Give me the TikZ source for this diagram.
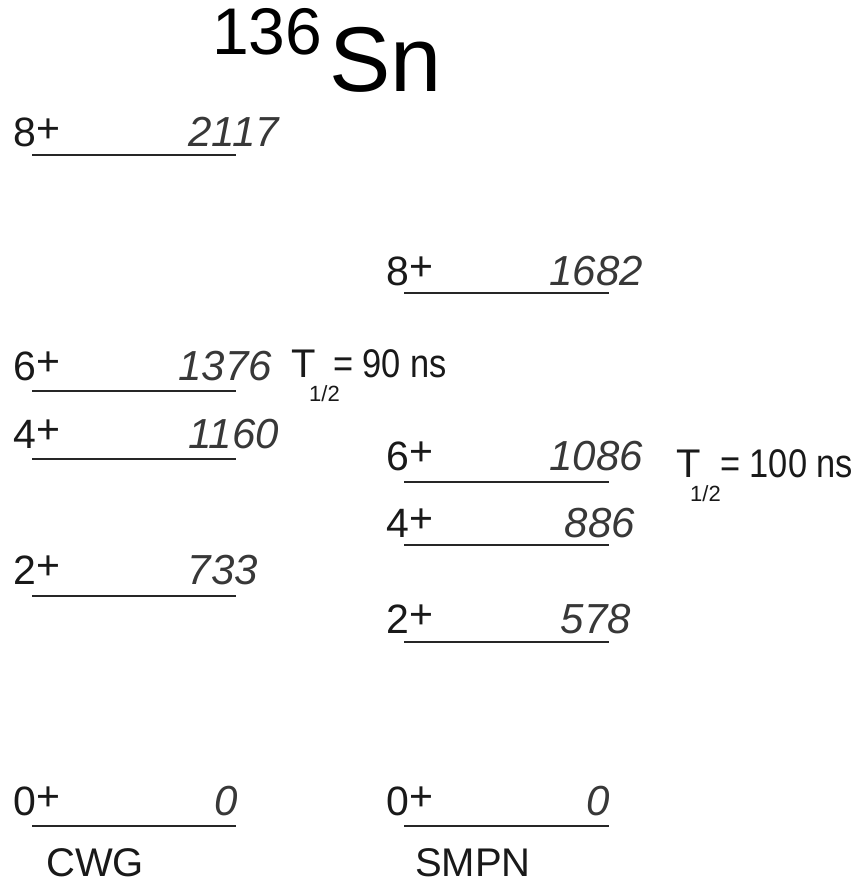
\documentclass[tikz,border=0pt]{standalone}
\usepackage{fontspec}
\usepackage{graphicx}
\setmainfont{Liberation Sans}
\begin{document}
\begin{tikzpicture}[x=1pt,y=-1pt,
  lvl/.style={line width=2.2pt, draw=black!85},
  spin/.style={anchor=base west, inner sep=0pt, font=\fontsize{41}{43}\selectfont, text=black!90},
  ener/.style={anchor=base east, inner sep=0pt, font=\fontsize{42}{44}\selectfont\itshape, text=black!78},
  big/.style={inner sep=0pt, anchor=base west},
  lab/.style={anchor=base west, inner sep=0pt, font=\fontsize{40}{42}\selectfont, text=black!90},
  sub/.style={anchor=base west, inner sep=0pt, font=\fontsize{22}{24}\selectfont, text=black!90}]
\newcommand{\jp}[1]{#1\raisebox{0.12em}{+}}
\newcommand{\nrw}[1]{\scalebox{0.86}[1]{#1}}
\useasboundingbox (0,0) rectangle (852,885);
% title
\node[big, font=\fontsize{66}{68}\selectfont] (mass) at (212,55) {136};
\node[big, font=\fontsize{92}{94}\selectfont] (elem) at (329,92) {Sn};
% left column (CWG)
\coordinate (L8a) at (32,155);  \coordinate (L8b) at (236,155);
\coordinate (L6a) at (32,391);  \coordinate (L6b) at (236,391);
\coordinate (L4a) at (32,459);  \coordinate (L4b) at (236,459);
\coordinate (L2a) at (32,596);  \coordinate (L2b) at (236,596);
\coordinate (L0a) at (32,826);  \coordinate (L0b) at (236,826);
\draw[lvl] (L8a) -- (L8b);
\draw[lvl] (L6a) -- (L6b);
\draw[lvl] (L4a) -- (L4b);
\draw[lvl] (L2a) -- (L2b);
\draw[lvl] (L0a) -- (L0b);
\node[spin] (sL8) at (13,147) {\jp{8}};
\node[spin] (sL6) at (13,380) {\jp{6}};
\node[spin] (sL4) at (13,448) {\jp{4}};
\node[spin] (sL2) at (13,584) {\jp{2}};
\node[spin] (sL0) at (13,815) {\jp{0}};
\node[ener] (eL8) at (279,147) {2117};
\node[ener] (eL6) at (272,380) {1376};
\node[ener] (eL4) at (279,448) {1160};
\node[ener] (eL2) at (258,584) {733};
\node[ener] (eL0) at (238,815) {0};
\node[lab] (tA) at (291,377) {T};
\node[sub] (tAs) at (309,401) {1/2};
\node[lab] (tAv) at (333,377) {\nrw{= 90 ns}};
\node[lab] (cwg) at (46,876) {CWG};
% right column (SMPN)
\coordinate (R8a) at (404,293);  \coordinate (R8b) at (609,293);
\coordinate (R6a) at (404,482);  \coordinate (R6b) at (609,482);
\coordinate (R4a) at (404,545);  \coordinate (R4b) at (609,545);
\coordinate (R2a) at (404,642);  \coordinate (R2b) at (609,642);
\coordinate (R0a) at (404,826);  \coordinate (R0b) at (609,826);
\draw[lvl] (R8a) -- (R8b);
\draw[lvl] (R6a) -- (R6b);
\draw[lvl] (R4a) -- (R4b);
\draw[lvl] (R2a) -- (R2b);
\draw[lvl] (R0a) -- (R0b);
\node[spin] (sR8) at (386,285) {\jp{8}};
\node[spin] (sR6) at (386,470) {\jp{6}};
\node[spin] (sR4) at (386,537) {\jp{4}};
\node[spin] (sR2) at (386,633) {\jp{2}};
\node[spin] (sR0) at (386,815) {\jp{0}};
\node[ener] (eR8) at (643,285) {1682};
\node[ener] (eR6) at (643,470) {1086};
\node[ener] (eR4) at (635,537) {886};
\node[ener] (eR2) at (631,633) {578};
\node[ener] (eR0) at (610,815) {0};
\node[lab] (tB) at (676,477) {T};
\node[sub] (tBs) at (690,501) {1/2};
\node[lab] (tBv) at (720,477) {\nrw{= 100 ns}};
\node[lab] (smpn) at (415,876) {SMPN};
\end{tikzpicture}
\end{document}
